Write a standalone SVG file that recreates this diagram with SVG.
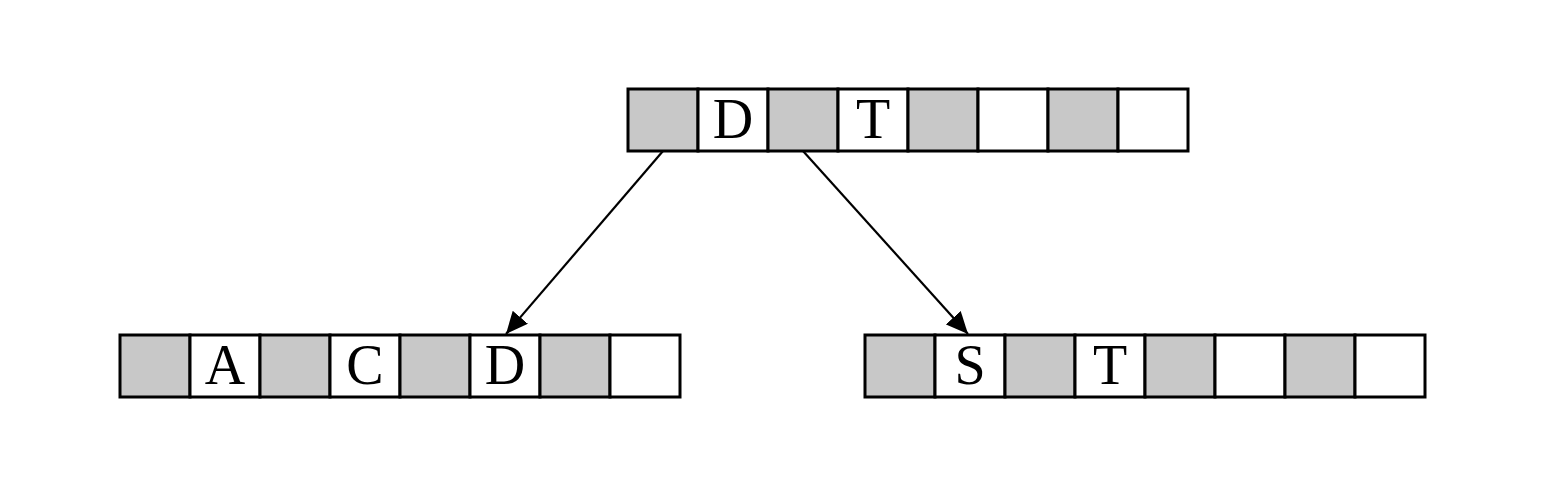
<svg xmlns="http://www.w3.org/2000/svg" width="1546" height="492" viewBox="0 0 1546 492">
<style>
.g{fill:#c8c8c8;stroke:#000;stroke-width:3}
.w{fill:#fff;stroke:#000;stroke-width:3}
.t{font-family:"Liberation Serif",serif;font-size:56px;text-anchor:middle;fill:#000}
.c{stroke:#000;stroke-width:2.2;fill:none}
</style>
<defs>
<marker id="a" viewBox="0 0 22 20" refX="22" refY="10" markerWidth="22" markerHeight="20" markerUnits="userSpaceOnUse" orient="auto">
<path d="M0,0 L22,10 L0,20 z" fill="#000"/>
</marker>
</defs>
<rect width="1546" height="492" fill="#fff"/>
<g id="connectors">
<line class="c" x1="663" y1="151" x2="506" y2="334" marker-end="url(#a)"/>
<line class="c" x1="803" y1="151" x2="968" y2="334" marker-end="url(#a)"/>
</g>
<g id="node-root">
<rect class="g" x="628" y="89" width="70" height="62"/>
<rect class="w" x="698" y="89" width="70" height="62"/>
<rect class="g" x="768" y="89" width="70" height="62"/>
<rect class="w" x="838" y="89" width="70" height="62"/>
<rect class="g" x="908" y="89" width="70" height="62"/>
<rect class="w" x="978" y="89" width="70" height="62"/>
<rect class="g" x="1048" y="89" width="70" height="62"/>
<rect class="w" x="1118" y="89" width="70" height="62"/>
<text class="t" x="733" y="138">D</text>
<text class="t" x="873" y="138">T</text>
</g>
<g id="node-left">
<rect class="g" x="120" y="335" width="70" height="62"/>
<rect class="w" x="190" y="335" width="70" height="62"/>
<rect class="g" x="260" y="335" width="70" height="62"/>
<rect class="w" x="330" y="335" width="70" height="62"/>
<rect class="g" x="400" y="335" width="70" height="62"/>
<rect class="w" x="470" y="335" width="70" height="62"/>
<rect class="g" x="540" y="335" width="70" height="62"/>
<rect class="w" x="610" y="335" width="70" height="62"/>
<text class="t" x="225" y="384">A</text>
<text class="t" x="365" y="384">C</text>
<text class="t" x="505" y="384">D</text>
</g>
<g id="node-right">
<rect class="g" x="865" y="335" width="70" height="62"/>
<rect class="w" x="935" y="335" width="70" height="62"/>
<rect class="g" x="1005" y="335" width="70" height="62"/>
<rect class="w" x="1075" y="335" width="70" height="62"/>
<rect class="g" x="1145" y="335" width="70" height="62"/>
<rect class="w" x="1215" y="335" width="70" height="62"/>
<rect class="g" x="1285" y="335" width="70" height="62"/>
<rect class="w" x="1355" y="335" width="70" height="62"/>
<text class="t" x="970" y="384">S</text>
<text class="t" x="1110" y="384">T</text>
</g>
</svg>
